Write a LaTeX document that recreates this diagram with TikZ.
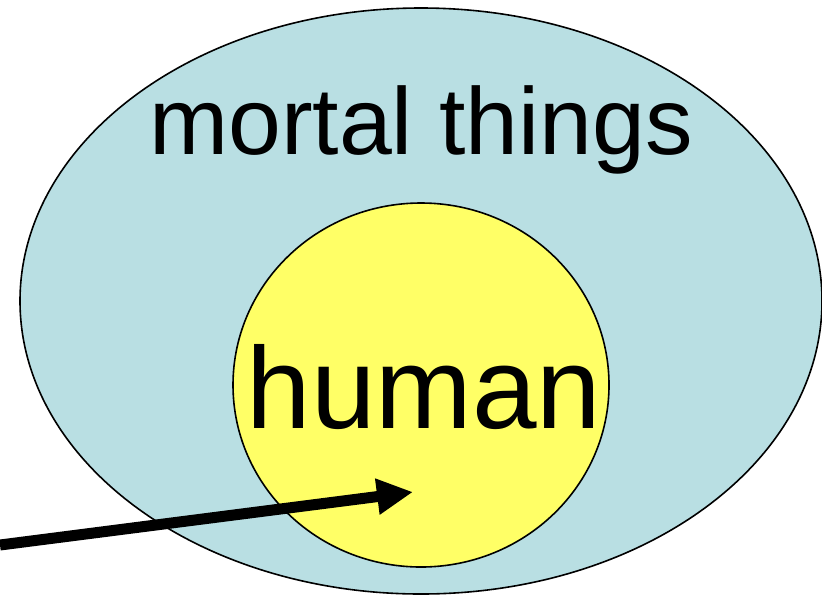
\documentclass[tikz,border=0pt]{standalone}
\usepackage{fontspec}
\setmainfont{Liberation Sans}
\usetikzlibrary{shapes.geometric, arrows.meta, positioning}
\definecolor{mortalblue}{HTML}{B9DFE3}
\definecolor{humanyellow}{HTML}{FFFF66}

\begin{document}
\begin{tikzpicture}[
    x=0.5pt, y=-0.5pt,
    set/.style={draw, ellipse, line width=0.8pt, inner sep=0pt},
    label/.style={anchor=base, inner sep=0pt}
    ]
    \useasboundingbox (0,0) rectangle (822,595);

    % --- Conjuntos ---
    \node (mortal) [set, fill=mortalblue, minimum width=401pt, minimum height=293pt] at (421,301) {};
    \node (human) [set, fill=humanyellow, minimum width=188pt, minimum height=182pt] at (421,385) {};

    % --- Textos ---
    \node (mortaltext) [label, font=\fontsize{47.5}{56}\selectfont] at (421,154) {mortal things};
    \node (humantext) [label, font=\fontsize{58}{70}\selectfont] at (424,428) {human};

    % --- Flecha ---
    \coordinate (tail) at (0,545);
    \coordinate (tip) at (413,492);
    \draw[-{Triangle[length=18pt,width=17pt]}, line width=5.5pt] (tail) -- (tip);

\end{tikzpicture}
\end{document}
